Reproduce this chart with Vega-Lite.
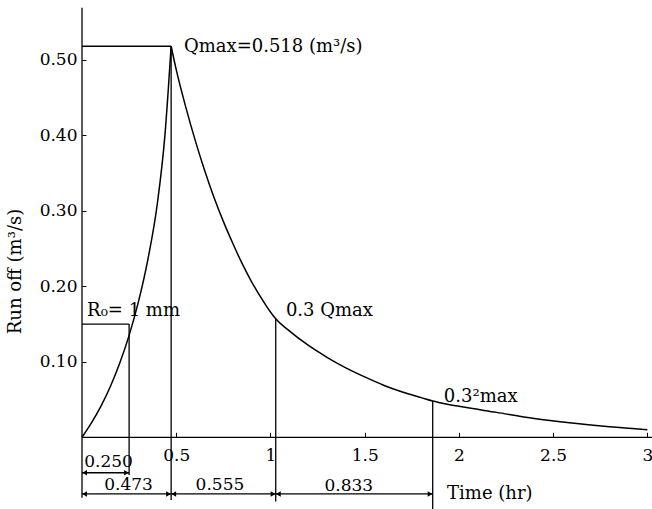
{
  "$schema": "https://vega.github.io/schema/vega-lite/v6.json",
  "autosize": {"type": "none"},
  "padding": {"left": 82, "top": 7, "right": 0, "bottom": 0},
  "width": 571,
  "height": 502,
  "background": "white",
  "config": {
    "view": {"stroke": null},
    "font": "DejaVu Serif",
    "text": {"font": "DejaVu Serif", "fontSize": 17, "color": "black"},
    "axis": {"labelFont": "DejaVu Serif", "titleFont": "DejaVu Serif", "labelColor": "black", "titleColor": "black", "tickColor": "black", "grid": false, "domain": false}
  },
  "datasets": {
    "curve": [
      {"seg": "rise", "t": 0, "q": 0},
      {"seg": "rise", "t": 0.05, "q": 0.019},
      {"seg": "rise", "t": 0.1, "q": 0.041},
      {"seg": "rise", "t": 0.15, "q": 0.067},
      {"seg": "rise", "t": 0.2, "q": 0.098},
      {"seg": "rise", "t": 0.25, "q": 0.135},
      {"seg": "rise", "t": 0.3, "q": 0.18},
      {"seg": "rise", "t": 0.35, "q": 0.236},
      {"seg": "rise", "t": 0.4, "q": 0.31},
      {"seg": "rise", "t": 0.44, "q": 0.4},
      {"seg": "rise", "t": 0.473, "q": 0.518},
      {"seg": "fall", "t": 0.473, "q": 0.518},
      {"seg": "fall", "t": 0.5, "q": 0.487},
      {"seg": "fall", "t": 0.55, "q": 0.438},
      {"seg": "fall", "t": 0.6, "q": 0.394},
      {"seg": "fall", "t": 0.65, "q": 0.354},
      {"seg": "fall", "t": 0.7, "q": 0.318},
      {"seg": "fall", "t": 0.75, "q": 0.286},
      {"seg": "fall", "t": 0.8, "q": 0.257},
      {"seg": "fall", "t": 0.85, "q": 0.23},
      {"seg": "fall", "t": 0.9, "q": 0.206},
      {"seg": "fall", "t": 0.95, "q": 0.185},
      {"seg": "fall", "t": 1.0, "q": 0.166},
      {"seg": "fall", "t": 1.028, "q": 0.157},
      {"seg": "fall", "t": 1.1, "q": 0.141},
      {"seg": "fall", "t": 1.2, "q": 0.122},
      {"seg": "fall", "t": 1.3, "q": 0.106},
      {"seg": "fall", "t": 1.4, "q": 0.092},
      {"seg": "fall", "t": 1.5, "q": 0.08},
      {"seg": "fall", "t": 1.6, "q": 0.069},
      {"seg": "fall", "t": 1.7, "q": 0.06},
      {"seg": "fall", "t": 1.8, "q": 0.0525},
      {"seg": "fall", "t": 1.861, "q": 0.048},
      {"seg": "fall", "t": 1.9, "q": 0.0458},
      {"seg": "fall", "t": 2.0, "q": 0.041},
      {"seg": "fall", "t": 2.2, "q": 0.033},
      {"seg": "fall", "t": 2.4, "q": 0.025},
      {"seg": "fall", "t": 2.6, "q": 0.019},
      {"seg": "fall", "t": 2.8, "q": 0.014},
      {"seg": "fall", "t": 3.0, "q": 0.01}
    ],
    "segments": [
      {"x": 0, "y": -0.08, "x2": 0, "y2": 0.569},
      {"x": 0, "y": 0, "x2": 3.03, "y2": 0},
      {"x": 0, "y": 0.518, "x2": 0.473, "y2": 0.518},
      {"x": 0.473, "y": -0.083, "x2": 0.473, "y2": 0.518},
      {"x": 0, "y": 0.15, "x2": 0.25, "y2": 0.15},
      {"x": 0.25, "y": -0.05, "x2": 0.25, "y2": 0.15},
      {"x": 1.028, "y": -0.085, "x2": 1.028, "y2": 0.157},
      {"x": 1.861, "y": -0.095, "x2": 1.861, "y2": 0.048},
      {"x": 0, "y": -0.047, "x2": 0.25, "y2": -0.047},
      {"x": 0, "y": -0.075, "x2": 1.861, "y2": -0.075}
    ],
    "leftArrows": [
      {"x": 0.014, "y": -0.047},
      {"x": 0.014, "y": -0.075},
      {"x": 0.487, "y": -0.075},
      {"x": 1.042, "y": -0.075}
    ],
    "rightArrows": [
      {"x": 0.236, "y": -0.047},
      {"x": 0.459, "y": -0.075},
      {"x": 1.014, "y": -0.075},
      {"x": 1.847, "y": -0.075}
    ],
    "leftTexts": [
      {"label": "Qmax=0.518 (m³/s)", "x": 0.541, "y": 0.517},
      {"label": "R₀= 1 mm", "x": 0.027, "y": 0.167},
      {"label": "0.3 Qmax", "x": 1.082, "y": 0.167},
      {"label": "0.3²max", "x": 1.92, "y": 0.054}
    ],
    "centerTexts": [
      {"label": "0.250", "x": 0.141, "y": -0.0325},
      {"label": "0.473", "x": 0.247, "y": -0.063},
      {"label": "0.555", "x": 0.732, "y": -0.063},
      {"label": "0.833", "x": 1.416, "y": -0.065}
    ],
    "axisTitleTexts": [
      {"label": "Time (hr)", "x": 2.164, "y": -0.075}
    ]
  },
  "layer": [
    {
      "data": {"name": "segments"},
      "mark": {"type": "rule", "color": "black", "strokeWidth": 1.3, "clip": false},
      "encoding": {
        "x": {"field": "x", "type": "quantitative", "scale": {"domain": [0, 3.03], "nice": false, "zero": false},
          "axis": {"orient": "bottom", "offset": -71.7, "values": [0.5, 1, 1.5, 2, 2.5, 3], "format": "~g", "tickSize": -5, "labelPadding": 15, "labelFontSize": 17, "title": null}},
        "y": {"field": "y", "type": "quantitative", "scale": {"domain": [-0.095, 0.57], "nice": false, "zero": false},
          "axis": {"values": [0.1, 0.2, 0.3, 0.4, 0.5], "format": ".2f", "tickSize": -4, "labelPadding": 9, "labelFontSize": 17,
            "title": "Run off (m³/s)", "titleFontSize": 18, "titleFontWeight": "normal", "titleX": -67, "titleY": 264, "titleAngle": 270, "titleAlign": "center", "titleBaseline": "middle"}},
        "x2": {"field": "x2"},
        "y2": {"field": "y2"}
      }
    },
    {
      "data": {"name": "curve"},
      "mark": {"type": "line", "color": "black", "strokeWidth": 1.5, "interpolate": "monotone"},
      "encoding": {
        "x": {"field": "t", "type": "quantitative"},
        "y": {"field": "q", "type": "quantitative"},
        "detail": {"field": "seg"}
      }
    },
    {
      "data": {"name": "leftArrows"},
      "mark": {"type": "point", "shape": "triangle-left", "filled": true, "size": 30, "color": "black", "opacity": 1},
      "encoding": {
        "x": {"field": "x", "type": "quantitative"},
        "y": {"field": "y", "type": "quantitative"}
      }
    },
    {
      "data": {"name": "rightArrows"},
      "mark": {"type": "point", "shape": "triangle-right", "filled": true, "size": 30, "color": "black", "opacity": 1},
      "encoding": {
        "x": {"field": "x", "type": "quantitative"},
        "y": {"field": "y", "type": "quantitative"}
      }
    },
    {
      "data": {"name": "leftTexts"},
      "mark": {"type": "text", "align": "left", "baseline": "middle", "fontSize": 18, "color": "black"},
      "encoding": {
        "x": {"field": "x", "type": "quantitative"},
        "y": {"field": "y", "type": "quantitative"},
        "text": {"field": "label"}
      }
    },
    {
      "data": {"name": "centerTexts"},
      "mark": {"type": "text", "align": "center", "baseline": "middle", "fontSize": 17, "color": "black"},
      "encoding": {
        "x": {"field": "x", "type": "quantitative"},
        "y": {"field": "y", "type": "quantitative"},
        "text": {"field": "label"}
      }
    },
    {
      "data": {"name": "axisTitleTexts"},
      "mark": {"type": "text", "align": "center", "baseline": "middle", "fontSize": 18, "color": "black"},
      "encoding": {
        "x": {"field": "x", "type": "quantitative"},
        "y": {"field": "y", "type": "quantitative"},
        "text": {"field": "label"}
      }
    }
  ]
}
